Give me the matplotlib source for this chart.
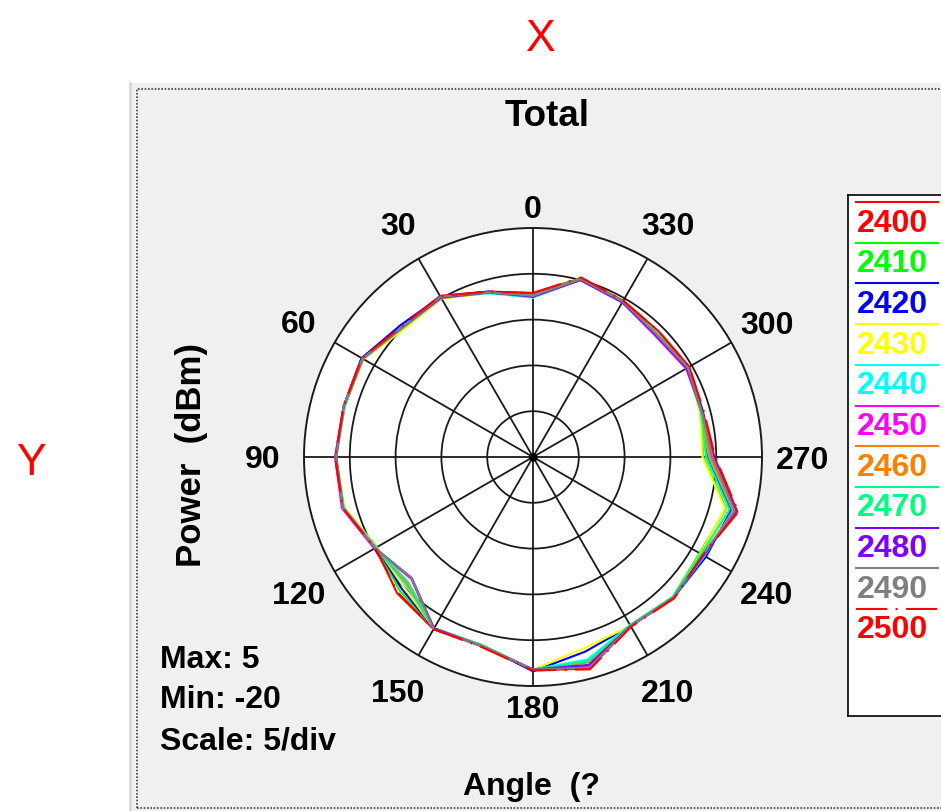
import numpy as np
import matplotlib.pyplot as plt
from matplotlib.patches import Rectangle
from matplotlib.lines import Line2D

W, H = 941, 811

angles = [0, 15, 30, 45, 60, 75, 90, 105, 120, 135, 150, 165,
          180, 195, 210, 225, 240, 255, 270, 285, 300, 315, 330, 345]

freqs = ["2400", "2410", "2420", "2430", "2440", "2450",
         "2460", "2470", "2480", "2490", "2500"]
colors = ["#ff0000", "#00ff00", "#0000ff", "#ffff00", "#00ffff", "#ff00ff",
          "#ff8000", "#00ff80", "#8000ff", "#808080", "#ff0000"]

p2400 = [-2.1, -1.3, 0.3, 0.1, 1.6, 1.4, 1.6, 1.5, -0.2, 1.0, 1.7, 1.4,
         3.3, 3.9, 1.3, 1.8, 1.3, 3.1, -0.2, -0.8, -0.3, -0.6, -0.3, 0.2]
p2410 = [-2.3, -1.4, 0.2, 0.0, 1.5, 1.3, 1.5, 1.4, -0.3, 0.6, 1.6, 1.3,
         3.3, 3.2, 1.2, 1.6, 1.0, 1.8, -1.4, -1.1, -0.5, -0.9, -0.4, 0.2]
p2420 = [-2.3, -1.3, 0.2, 0.4, 1.6, 1.4, 1.5, 1.4, -0.3, 0.3, 1.6, 1.3,
         3.4, 2.0, 1.3, 1.7, 1.8, 2.4, -1.0, -0.8, -0.5, -0.9, -0.4, 0.1]
p2430 = [-2.4, -1.5, 0.0, -0.2, 1.4, 1.3, 1.5, 1.3, -0.3, 0.0, 1.6, 1.3,
         3.2, 1.6, 1.3, 1.7, 1.1, 1.7, -1.5, -1.1, -0.6, -1.0, -0.5, 0.1]
p2440 = [-2.6, -1.5, 0.1, 0.0, 1.5, 1.3, 1.5, 1.4, -0.2, -0.3, 1.6, 1.3,
         3.2, 2.9, 1.2, 1.7, 1.6, 2.6, -0.8, -1.0, -0.6, -1.0, -0.5, 0.0]
p2450 = [-2.4, -1.4, 0.1, 0.1, 1.5, 1.4, 1.6, 1.6, 0.0, -1.2, 1.7, 1.4,
         3.2, 3.7, 1.3, 1.7, 1.4, 2.9, -0.5, -0.9, -0.7, -1.2, -0.5, 0.0]
p2460 = [-2.3, -1.4, 0.0, 0.0, 1.4, 1.3, 1.5, 1.4, -0.2, -0.5, 1.6, 1.3,
         3.2, 3.2, 1.3, 1.7, 1.4, 2.7, -0.7, -1.0, -0.5, -0.9, -0.4, 0.1]
p2470 = [-2.4, -1.4, 0.1, 0.0, 1.5, 1.3, 1.5, 1.4, -0.2, -0.7, 1.6, 1.3,
         3.2, 3.1, 1.2, 1.6, 1.2, 2.2, -1.1, -1.0, -0.5, -0.9, -0.4, 0.1]
p2480 = [-2.5, -1.4, 0.1, 0.1, 1.5, 1.4, 1.5, 1.5, -0.1, -1.3, 1.6, 1.4,
         3.2, 3.5, 1.3, 1.7, 1.5, 2.9, -0.3, -0.9, -0.6, -1.1, -0.5, 0.0]
p2490 = [-2.4, -1.4, 0.2, 0.1, 1.5, 1.4, 1.5, 1.5, -0.1, -1.3, 1.7, 1.4,
         3.2, 3.8, 1.3, 1.7, 1.4, 2.8, -0.4, -0.9, -0.5, -1.0, -0.4, 0.1]
p2500 = [-2.1, -1.3, 0.3, 0.2, 1.6, 1.4, 1.6, 1.5, -0.1, 0.9, 1.7, 1.5,
         3.3, 4.0, 1.4, 1.8, 1.4, 3.2, -0.1, -0.7, -0.3, -0.6, -0.3, 0.3]
series = [p2400, p2410, p2420, p2430, p2440, p2450,
          p2460, p2470, p2480, p2490, p2500]

r_min, r_max, r_step = -20, 5, 5
tick_angles = [0, 30, 60, 90, 120, 150, 180, 210, 240, 270, 300, 330]

plt.rcParams["font.family"] = ["Liberation Sans", "DejaVu Sans"]


def fx(x):
    return x / W


def fy(y):
    return 1 - y / H


fig = plt.figure(figsize=(W / 100, H / 100), dpi=100, facecolor="white")

# grey panel and its dotted frame
fig.patches.append(Rectangle((fx(130), 0), 1, fy(83), transform=fig.transFigure,
                             facecolor="#f0f0f0", edgecolor="none", zorder=-3))
fig.lines.append(Line2D([fx(130), fx(130)], [0, fy(83)], transform=fig.transFigure,
                        color="#d8d8d8", lw=2, zorder=-2))
fig.lines.append(Line2D([fx(137), fx(137), 1], [fy(808), fy(89), fy(89)],
                        transform=fig.transFigure, color="#404040", lw=1.2,
                        ls=(0, (1, 1)), zorder=-1))
fig.lines.append(Line2D([fx(137), 1], [fy(808), fy(808)],
                        transform=fig.transFigure, color="#404040", lw=1.2,
                        ls=(0, (1, 1)), zorder=-1))

cx, cy, rad = 533, 457, 229
ax = fig.add_axes([fx(cx - rad), fy(cy + rad), 2 * rad / W, 2 * rad / H],
                  projection="polar")
ax.set_facecolor("white")
ax.set_theta_zero_location("N")
ax.set_theta_direction(1)
ax.set_ylim(r_min, r_max)
ax.set_thetagrids(tick_angles, labels=[""] * len(tick_angles))
ax.set_rgrids(list(range(r_min + r_step, r_max, r_step)),
              labels=[""] * 4)
ax.grid(True, color="#1a1a1a", lw=1.3, ls="-")
ax.spines["polar"].set_color("#1a1a1a")
ax.spines["polar"].set_linewidth(1.4)
ax.tick_params(length=0)

th = np.deg2rad(angles + angles[:1])
for vals, c, f in zip(series, colors, freqs):
    ls = (0, (15, 4, 1, 4)) if f == "2500" else "-"
    ax.plot(th, vals + vals[:1], color=c, lw=1.5, ls=ls)
ax.plot([0], [r_min], "o", color="black", ms=5)

for a in tick_angles:
    t = np.deg2rad(a)
    off = 21 if a in (0, 180) else 41
    ax.annotate(str(a), xy=(t, r_max), xytext=(-np.sin(t) * off, np.cos(t) * off),
                textcoords="offset pixels", ha="center", va="center_baseline",
                fontsize=23, fontweight="bold", annotation_clip=False)

# legend box
lax = fig.add_axes([fx(848), fy(716), (980 - 848) / W, (716 - 195) / H])
lax.set_xlim(848, 980)
lax.set_ylim(716, 195)
lax.set_xticks([])
lax.set_yticks([])
lax.set_facecolor("white")
for s in lax.spines.values():
    s.set_color("black")
    s.set_linewidth(1.2)
for i, (f, c) in enumerate(zip(freqs, colors)):
    ls = (0, (15, 4, 1, 4)) if f == "2500" else "-"
    y = 220 + 40.7 * i
    lax.plot([856, 938], [y - 18, y - 18], color=c, lw=1.5, ls=ls)
    lax.text(857, y, f, color=c, fontsize=23, fontweight="bold",
             ha="left", va="center_baseline")

fig.text(fx(547), fy(112), "Total", fontsize=26.5, fontweight="bold",
         ha="center", va="center_baseline")
fig.text(fx(192), fy(455), "Power  (dBm)", fontsize=25, fontweight="bold",
         rotation=90, ha="center", va="center")
fig.text(fx(160), fy(657), "Max: 5", fontsize=23, fontweight="bold",
         ha="left", va="center_baseline")
fig.text(fx(160), fy(697), "Min: -20", fontsize=23, fontweight="bold",
         ha="left", va="center_baseline")
fig.text(fx(160), fy(738), "Scale: 5/div", fontsize=23, fontweight="bold",
         ha="left", va="center_baseline")
fig.text(fx(463), fy(783), "Angle  (?", fontsize=23, fontweight="bold",
         ha="left", va="center_baseline")
fig.text(fx(541), fy(35), "X", fontsize=32, color="red",
         ha="center", va="center_baseline")
fig.text(fx(31), fy(459), "Y", fontsize=32, color="red",
         ha="center", va="center_baseline")

fig.savefig("out.png", dpi=100, facecolor="white")
